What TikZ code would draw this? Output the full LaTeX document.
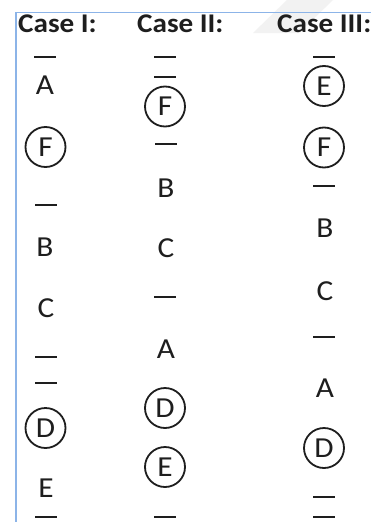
\documentclass[tikz,border=0pt]{standalone}
\usepackage{fontspec}
\setmainfont{Carlito}[FakeStretch=1.08]
\definecolor{ink}{RGB}{30,30,30}
\definecolor{frame}{RGB}{140,180,232}
\tikzset{
  lbl/.style={inner sep=0pt, text=ink, font=\fontsize{29}{29}\selectfont},
  ring/.style={circle, draw=ink, line width=1.8pt, minimum size=40pt, inner sep=0pt, text=ink, font=\fontsize{29}{29}\selectfont},
  blank/.style={fill=ink, inner sep=0pt, minimum width=22pt, minimum height=2pt},
  head/.style={anchor=base west, inner sep=0pt, text=ink, font=\fontsize{27}{27}\selectfont\bfseries},
}
\begin{document}
\begin{tikzpicture}[x=1pt,y=-1pt]
\useasboundingbox (0,0) rectangle (371,522);
\fill[white] (0,0) rectangle (371,522);
% faint diagonal watermark band
\fill[gray!10] (287,0) -- (333,0) -- (299,33) -- (253,33) -- cycle;
% frame
\coordinate (ftr) at (371,12.5);
\coordinate (ftl) at (16,12.5);
\coordinate (fbl) at (16,522);
\draw[frame, line width=1.5pt] (ftr) -- (ftl) -- (fbl);
% headers
\node[head] (h1) at (18,32) {Case I:};
\node[head] (h2) at (137,32) {Case II:};
\node[head] (h3) at (277,32) {Case III:};
% Case I
\node[blank] (a1) at (45,57) {};
\node[lbl]   (a2) at (45,85) {A};
\node[ring]  (a3) at (45.5,147) {F};
\node[blank] (a4) at (46,205) {};
\node[lbl]   (a5) at (45,247) {B};
\node[lbl]   (a6) at (46,308) {C};
\node[blank] (a7) at (46,357) {};
\node[blank] (a8) at (46,383) {};
\node[ring]  (a9) at (45.5,428) {D};
\node[lbl]   (a10) at (46,488) {E};
\node[blank] (a11) at (46,517) {};
% Case II
\node[blank] (b1) at (165,57) {};
\node[blank] (b2) at (165,77) {};
\node[ring]  (b3) at (165,106.5) {F};
\node[blank] (b4) at (166,144) {};
\node[lbl]   (b5) at (166,188) {B};
\node[lbl]   (b6) at (166,248) {C};
\node[blank] (b7) at (165,297) {};
\node[lbl]   (b8) at (166,349.5) {A};
\node[ring]  (b9) at (165,408) {D};
\node[ring]  (b10) at (165,467) {E};
\node[blank] (b11) at (165,517) {};
% Case III
\node[blank] (c1) at (324,57) {};
\node[ring]  (c2) at (324,86) {E};
\node[ring]  (c3) at (324,147.5) {F};
\node[blank] (c4) at (324,186) {};
\node[lbl]   (c5) at (325,228) {B};
\node[lbl]   (c6) at (325,291) {C};
\node[blank] (c7) at (324,337) {};
\node[lbl]   (c8) at (325,388) {A};
\node[ring]  (c9) at (324,448) {D};
\node[blank] (c10) at (324,497) {};
\node[blank] (c11) at (324,517) {};
\end{tikzpicture}
\end{document}
